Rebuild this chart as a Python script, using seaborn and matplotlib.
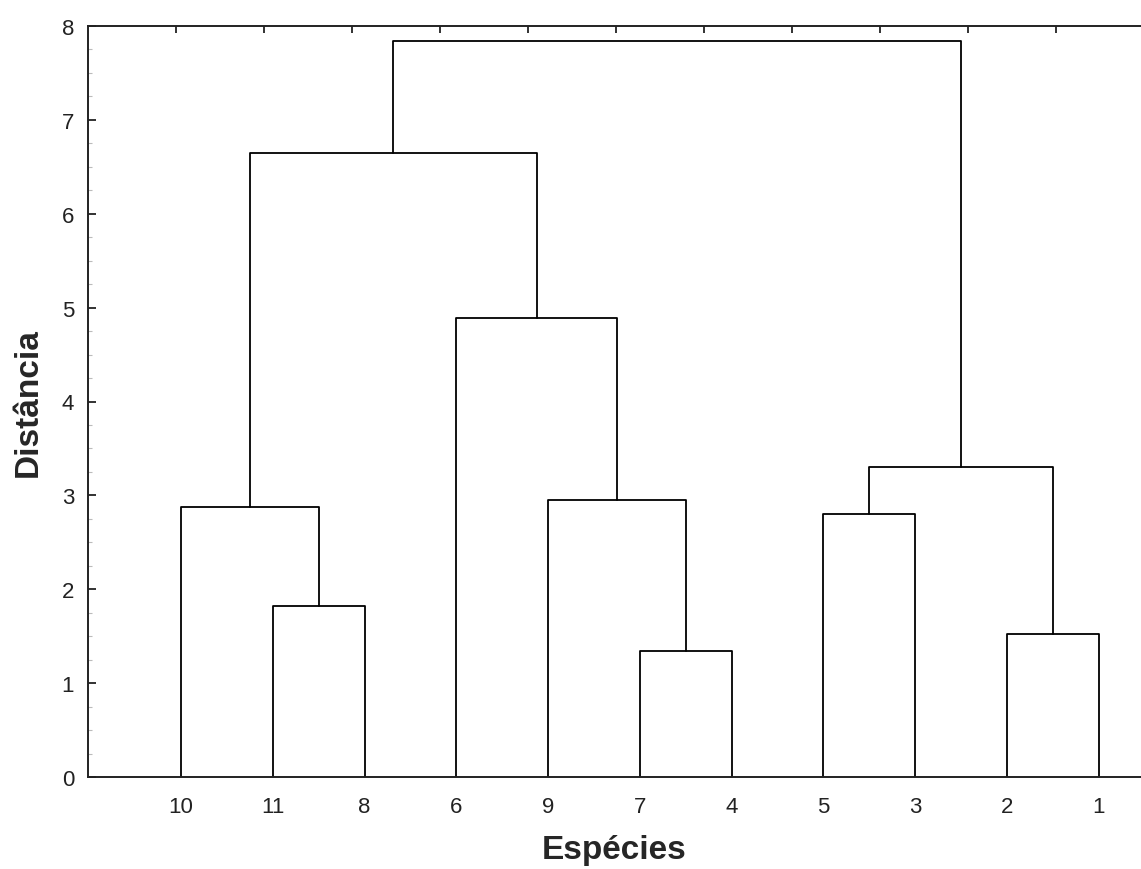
import numpy as np
import pandas as pd
import matplotlib
matplotlib.use("Agg")
import matplotlib.pyplot as plt
import seaborn as sns
from matplotlib.ticker import MultipleLocator, FixedLocator

# leaf order along the x axis
leaf_labels = ["10", "11", "8", "6", "9", "7", "4", "5", "3", "2", "1"]
# merges: (left member, right member, height); members are leaf labels or merge names
merge_names = ["m1", "m2", "m3", "m4", "m5", "m6", "m7", "m8", "m9", "m10"]
merge_left = ["7", "2", "11", "5", "10", "9", "m4", "6", "m5", "m9"]
merge_right = ["4", "1", "8", "3", "m3", "m1", "m2", "m6", "m8", "m7"]
merge_height = [1.34, 1.52, 1.82, 2.80, 2.88, 2.95, 3.30, 4.89, 6.645, 7.84]

sns.set_theme(style="ticks")
plt.rcParams["font.family"] = ["Liberation Sans", "DejaVu Sans"]

# build segment table from merges
pos = {lab: i + 1 for i, lab in enumerate(leaf_labels)}
hgt = {lab: 0.0 for lab in leaf_labels}
rows = []
for k, (name, a, b, h) in enumerate(zip(merge_names, merge_left, merge_right, merge_height)):
    xa, xb = pos[a], pos[b]
    rows += [
        {"link": k, "x": xa, "y": hgt[a]},
        {"link": k, "x": xa, "y": h},
        {"link": k, "x": xb, "y": h},
        {"link": k, "x": xb, "y": hgt[b]},
    ]
    pos[name] = (xa + xb) / 2
    hgt[name] = h
df = pd.DataFrame(rows)

fig = plt.figure(figsize=(11.41, 8.70), dpi=100)
ax = fig.add_axes([88 / 1141, (870 - 778) / 870, (1141 - 88) / 1141, (778 - 27) / 870])
sns.lineplot(data=df, x="x", y="y", units="link", estimator=None, sort=False,
             color="black", linewidth=1.3, ax=ax, legend=False)

ax.set_xlim(-0.013, 11.46)
ax.set_ylim(0, 8)
ax.set_xticks(range(1, len(leaf_labels) + 1))
ax.set_xticklabels(leaf_labels)
ax.set_yticks(range(0, 9))
ax.yaxis.set_minor_locator(MultipleLocator(0.25))
ax.tick_params(axis="x", which="both", length=0, labelsize=16, pad=14, colors="#222222")
ax.tick_params(axis="y", which="major", direction="in", length=6, width=1.3,
               labelsize=16, pad=10, colors="#222222")
ax.tick_params(axis="y", which="minor", direction="in", length=3, width=0.8, color="#bbbbbb")
for s in ["left", "top", "bottom"]:
    ax.spines[s].set_linewidth(1.4)
    ax.spines[s].set_color("#222222")
ax.spines["right"].set_visible(False)

# top axis ticks
top = ax.twiny()
top.set_xlim(0, 1053 / 88)
top.xaxis.set_major_locator(FixedLocator(np.arange(1, 12)))
top.tick_params(axis="x", direction="in", length=5, width=1.3, labeltop=False, color="#222222")
for s in top.spines.values():
    s.set_visible(False)

ax.set_xlabel("Espécies", fontsize=24, fontweight="bold", labelpad=12)
ax.set_ylabel("Distância", fontsize=24, fontweight="bold", labelpad=13)

fig.savefig("out.png", dpi=100, facecolor="white")
